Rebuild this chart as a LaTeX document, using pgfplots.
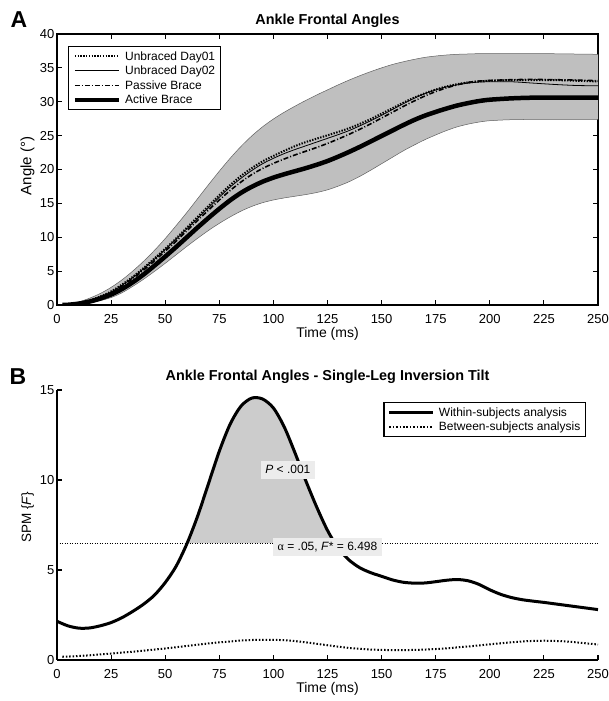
\documentclass[border=0pt]{standalone}
\usepackage{fontspec}
\setmainfont{Liberation Sans}
\newfontfamily\serifgr{Liberation Serif}
\usepackage{pgfplots}
\pgfplotsset{compat=1.18}
\usepackage{pgfplotstable}
\usepgfplotslibrary{fillbetween}
\newcommand\ls{\rule[-3pt]{0pt}{12pt}}

% Top panel: columns t, d1 (Unbraced Day01), d2 (Unbraced Day02), pb (Passive), ab (Active)
\pgfplotstableread{
t d1 d2 pb ab
2.5 0 0 0 0
5 0.05 0.05 0.05 0.03
10 0.3 0.3 0.28 0.2
15 0.7 0.65 0.62 0.5
20 1.25 1.2 1.15 0.95
25 2.0 1.9 1.85 1.55
30 3.0 2.9 2.8 2.35
35 4.15 4.05 3.9 3.35
40 5.45 5.35 5.15 4.5
45 6.85 6.75 6.5 5.8
50 8.3 8.2 7.95 7.15
55 9.8 9.7 9.4 8.55
60 11.4 11.25 10.95 10.0
65 13.0 12.8 12.5 11.45
70 14.6 14.35 14.0 12.85
75 16.2 15.9 15.5 14.2
80 17.7 17.4 16.9 15.45
85 19.05 18.7 18.15 16.55
90 20.2 19.85 19.25 17.45
95 21.2 20.85 20.15 18.2
100 22.0 21.65 20.9 18.8
105 22.75 22.35 21.55 19.3
110 23.45 22.95 22.15 19.75
115 24.05 23.5 22.7 20.2
120 24.55 24.05 23.25 20.7
125 25.05 24.6 23.85 21.25
130 25.55 25.15 24.5 21.9
135 26.1 25.75 25.2 22.6
140 26.75 26.45 25.95 23.35
145 27.45 27.2 26.75 24.15
150 28.25 28.0 27.6 24.95
155 29.05 28.85 28.45 25.75
160 29.85 29.7 29.3 26.55
165 30.6 30.5 30.1 27.3
170 31.25 31.2 30.85 27.95
175 31.8 31.75 31.5 28.5
180 32.25 32.2 32.05 29.0
185 32.6 32.5 32.5 29.45
190 32.85 32.75 32.85 29.8
195 33.0 32.9 33.05 30.1
200 33.1 32.95 33.15 30.3
210 33.2 32.95 33.25 30.5
220 33.2 32.75 33.3 30.6
230 33.2 32.55 33.25 30.6
240 33.1 32.4 33.2 30.6
250 33.0 32.35 33.1 30.6
}\tTop

% Grey band: upper and lower edge
\pgfplotstableread{
t up lo
4 0 0
5 0.05 0.02
10 0.45 0.15
15 1.0 0.35
20 1.7 0.65
25 2.6 1.1
30 3.7 1.8
35 5.0 2.75
40 6.45 3.8
45 8.05 4.95
50 9.8 6.15
55 11.7 7.4
60 13.65 8.65
65 15.7 9.85
70 17.75 11.0
75 19.75 12.05
80 21.65 13.0
85 23.4 13.85
90 24.95 14.55
95 26.3 15.1
100 27.45 15.5
105 28.45 15.8
110 29.35 16.05
115 30.2 16.3
120 31.0 16.6
125 31.75 17.0
130 32.5 17.55
135 33.2 18.2
140 33.85 19.0
145 34.45 19.9
150 35.0 20.85
155 35.5 21.8
160 35.9 22.75
165 36.25 23.6
170 36.55 24.4
175 36.75 25.1
180 36.9 25.75
185 37.0 26.3
190 37.05 26.7
195 37.1 27.0
200 37.1 27.2
210 37.1 27.35
225 37.1 27.4
250 37.0 27.4
}\tBand

% Bottom panel: SPM{F} within- and between-subjects
\pgfplotstableread{
t w
0 2.15
5 1.9
10 1.77
15 1.78
20 1.9
25 2.08
30 2.35
35 2.7
40 3.1
45 3.6
50 4.3
55 5.2
60 6.45
65 8.0
70 9.8
75 11.6
80 13.1
85 14.1
90 14.55
95 14.5
100 14.0
105 12.95
110 11.5
115 9.95
120 8.5
125 7.2
130 6.2
135 5.55
140 5.12
145 4.85
150 4.65
155 4.45
160 4.32
165 4.27
170 4.28
175 4.35
180 4.43
185 4.47
190 4.4
195 4.2
200 3.9
205 3.65
210 3.47
215 3.35
220 3.27
225 3.2
230 3.12
235 3.04
240 2.96
245 2.88
250 2.8
}\tWithin

\pgfplotstableread{
t b
2.5 0.18
5 0.19
10 0.22
15 0.26
20 0.31
25 0.36
30 0.41
35 0.46
40 0.52
45 0.58
50 0.64
55 0.71
60 0.78
65 0.85
70 0.92
75 0.98
80 1.03
85 1.08
90 1.11
95 1.12
100 1.12
105 1.1
110 1.05
115 0.98
120 0.9
125 0.82
130 0.74
135 0.67
140 0.62
145 0.58
150 0.56
155 0.55
160 0.55
165 0.56
170 0.58
175 0.61
180 0.65
185 0.7
190 0.75
195 0.81
200 0.87
205 0.93
210 0.98
215 1.03
220 1.06
225 1.07
230 1.06
235 1.03
240 0.98
245 0.92
250 0.86
}\tBetween

\pgfplotstableread{
t v
0 6.498
250 6.498
}\tThresh

\pgfplotsset{
  myaxis/.style={
    scale only axis, width=541pt,
    xmin=0, xmax=250, xtick={0,25,...,250},
    tick align=inside, major tick length=5pt,
    every tick/.style={black, line width=1.1pt},
    axis line style={line width=1.2pt},
    ticklabel style={font=\fontsize{13}{13}\selectfont},
    /pgf/number format/assume math mode=true,
    xticklabel style={inner sep=0pt, yshift=-9pt},
    yticklabel style={inner sep=0pt, xshift=-2.5pt},
    title style={font=\fontsize{14.4}{16}\selectfont\bfseries, at={(0.5,1)}, anchor=base, yshift=3.5pt},
    xlabel style={font=\fontsize{14}{16}\selectfont, at={(axis description cs:0.5,0)}, anchor=center, yshift=-29pt},
    legend image code/.code={\draw[##1] (0pt,0pt) -- (44pt,0pt);},
    legend cell align=left,
  },
  mylegend/.style={draw=black, line width=1.3pt, fill=white,
    font=\fontsize{12}{14}\selectfont, inner xsep=4pt, inner ysep=3.5pt,
    row sep=2pt, column sep=3pt, nodes={inner sep=1pt}},
}

\begin{document}
\begin{tikzpicture}

\begin{axis}[myaxis, height=271pt, at={(57pt,396pt)}, anchor=south west,
  ymin=0, ymax=40, ytick={0,5,...,40},
  title={Ankle Frontal Angles},
  xlabel={Time (ms)}, ylabel={Angle (°)},
  ylabel style={font=\fontsize{15}{17}\selectfont, at={(axis description cs:-0.0545,0.513)}, anchor=center},
  legend style={mylegend, at={(0.0203,0.9557)}, anchor=north west},
]
\addplot[name path=up, draw=none, smooth, forget plot] table[x=t,y=up]{\tBand};
\addplot[name path=lo, draw=none, smooth, forget plot] table[x=t,y=lo]{\tBand};
\addplot[fill=gray!50, draw=none, forget plot] fill between[of=up and lo];
\addplot[draw=gray!75!black, line width=0.5pt, smooth, forget plot] table[x=t,y=up]{\tBand};
\addplot[draw=gray!75!black, line width=0.5pt, smooth, forget plot] table[x=t,y=lo]{\tBand};

\addplot[black, line width=2pt, dash pattern=on 1.4pt off 1.4pt, smooth] table[x=t,y=d1]{\tTop};
\addlegendentry{\ls Unbraced Day01}
\addplot[black, line width=0.8pt, smooth] table[x=t,y=d2]{\tTop};
\addlegendentry{\ls Unbraced Day02}
\addplot[black, line width=1.6pt, dash pattern=on 5pt off 2pt on 1pt off 2pt, smooth] table[x=t,y=pb]{\tTop};
\addlegendentry{\ls Passive Brace}
\addplot[black, line width=4.5pt, smooth] table[x=t,y=ab]{\tTop};
\addlegendentry{\ls Active Brace}
\end{axis}

\begin{axis}[myaxis, height=270pt, at={(57pt,41pt)}, anchor=south west,
  ymin=0, ymax=15, ytick={0,5,10,15},
  axis x line*=bottom, axis y line*=left,
  title={Ankle Frontal Angles - Single-Leg Inversion Tilt},
  xlabel={Time (ms)}, ylabel={SPM \{\textit{F}\}},
  ylabel style={font=\fontsize{13.5}{15}\selectfont, at={(axis description cs:-0.0545,0.528)}, anchor=center},
  legend style={mylegend, at={(0.9778,0.9556)}, anchor=north east},
]
\addplot[name path=wi, draw=none, smooth, forget plot] table[x=t,y=w]{\tWithin};
\addplot[name path=th, draw=none, forget plot] table[x=t,y=v]{\tThresh};
\addplot[fill=gray!40, draw=none, forget plot] fill between[of=wi and th, soft clip={domain=60.1:128.1}];
\addplot[black, line width=0.7pt, dash pattern=on 1pt off 1.5pt, forget plot] table[x=t,y=v]{\tThresh};
\addplot[black, line width=3pt, smooth] table[x=t,y=w]{\tWithin};
\addlegendentry{\ls Within-subjects analysis}
\addplot[black, line width=2pt, dash pattern=on 1.5pt off 1.9pt, smooth] table[x=t,y=b]{\tBetween};
\addlegendentry{\ls Between-subjects analysis}
\node[fill=gray!15, inner xsep=4.5pt, inner ysep=0pt, text height=13pt, text depth=5pt, font=\fontsize{12}{14}\selectfont, anchor=center]
  at (axis cs:106.7,10.56) {\textit{P} < .001};
\node[fill=gray!15, inner xsep=5pt, inner ysep=0pt, text height=13pt, text depth=5pt, font=\fontsize{12}{14}\selectfont, anchor=center]
  at (axis cs:125.0,6.28) {{\serifgr α} = .05, \textit{F}* = 6.498};
\end{axis}

\node[font=\fontsize{23}{23}\selectfont\bfseries, anchor=center] at (19pt,681pt) {A};
\node[font=\fontsize{23}{23}\selectfont\bfseries, anchor=center] at (18pt,324pt) {B};
\pgfresetboundingbox
\path[use as bounding box] (0,0) rectangle (608pt,701pt);
\end{tikzpicture}
\end{document}
